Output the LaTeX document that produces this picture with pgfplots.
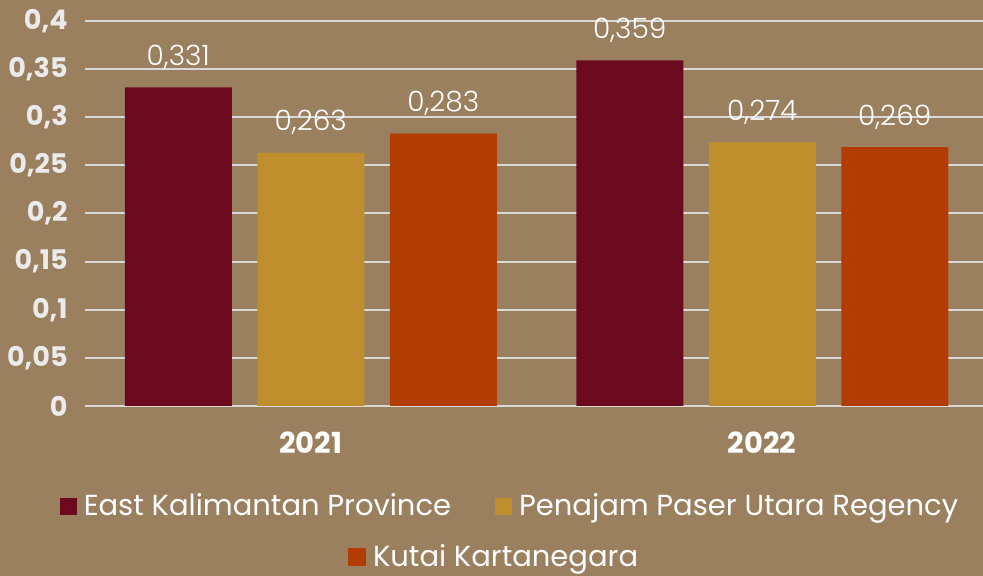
\documentclass[border=0pt]{standalone}
\usepackage{fontspec}
\setmainfont{Poppins}
\newfontfamily\lightfont{Poppins Light}
\usepackage{pgfplots}
\pgfplotsset{compat=1.18}
\definecolor{bg}{HTML}{9B8060}
\definecolor{eastk}{HTML}{6B0A1F}
\definecolor{ppu}{HTML}{BF8F2E}
\definecolor{kukar}{HTML}{B33C02}
\definecolor{gridc}{HTML}{D9D9D9}
\definecolor{tickc}{HTML}{EBEBEB}
\pgfplotsset{sq/.style={legend image code/.code={\fill[#1] (0pt,-4.25pt) rectangle (8.5pt,4.25pt);}}}

\begin{document}
\begin{tikzpicture}
\path[use as bounding box] (-42.5pt,-85pt) rectangle (449pt,203pt);
\fill[bg] (-42.5pt,-85pt) rectangle (449pt,203pt);
\clip (-42.5pt,-85pt) rectangle (449pt,203pt);
\begin{axis}[
  at={(0,0)}, anchor=south west,
  width=451.5pt, height=192.5pt, scale only axis,
  ybar, bar width=53.5pt,
  xmin=-0.5, xmax=1.5, ymin=0, ymax=0.4,
  xtick={0,1}, xticklabels={2021,2022},
  ytick={0,0.05,0.1,0.15,0.2,0.25,0.3,0.35,0.4},
  axis line style={draw=none},
  major tick length=0pt,
  ymajorgrids, grid style={gridc, line width=1pt},
  yticklabel style={font=\bfseries\fontsize{13.5}{14}\selectfont, text=tickc,
    anchor=east, inner sep=0pt, xshift=-8.5pt,
    /pgf/number format/.cd, fixed, precision=2, use comma, assume math mode=true},
  xticklabel style={font=\bfseries\fontsize{14.5}{15}\selectfont, text=white,
    anchor=north, inner sep=0pt, yshift=-12.5pt},
  nodes near coords={\pgfmathprintnumber[fixed, fixed zerofill, precision=3, use comma, assume math mode=true]{\pgfplotspointmeta}},
  every node near coord/.append style={font=\lightfont\fontsize{14}{15}\selectfont, text=white, anchor=base, inner sep=0pt, yshift=11pt},
  legend style={at={(0.4695,-0.26)}, anchor=center, draw=none, fill=none,
    font=\fontsize{14.5}{15}\selectfont, text=white, nodes={inner sep=0pt},
    /tikz/every odd column/.append style={column sep=3.5pt},
    /tikz/every even column/.append style={column sep=22pt}},
  legend columns=2,
]
\addplot[fill=eastk, draw=none, bar shift=-66.25pt, sq=eastk] coordinates {(0,0.331) (1,0.359)};
\addlegendentry{East Kalimantan Province}
\addplot[fill=ppu, draw=none, bar shift=0pt, sq=ppu] coordinates {(0,0.263) (1,0.274)};
\addlegendentry{Penajam Paser Utara Regency}
\addplot[fill=kukar, draw=none, bar shift=66.25pt, forget plot] coordinates {(0,0.283) (1,0.269)};
\end{axis}
\begin{axis}[
  at={(0,0)}, anchor=south west,
  width=451.5pt, height=192.5pt, scale only axis,
  xmin=0, xmax=1, ymin=0, ymax=1, hide axis,
  legend style={at={(0.452,-0.392)}, anchor=center, draw=none, fill=none,
    font=\fontsize{14.5}{15}\selectfont, text=white, nodes={inner sep=0pt},
    /tikz/every odd column/.append style={column sep=3.5pt}},
]
\addlegendimage{sq=kukar}
\addlegendentry{Kutai Kartanegara}
\end{axis}
\end{tikzpicture}
\end{document}
